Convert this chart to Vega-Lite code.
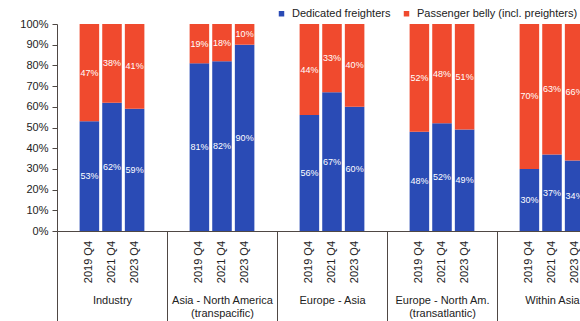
{
  "$schema": "https://vega.github.io/schema/vega-lite/v6.json",
  "width": 523,
  "height": 207,
  "autosize": {"type": "none"},
  "padding": {"left": 57, "top": 24, "right": 0, "bottom": 90},
  "background": "white",
  "config": {
    "view": {"stroke": null},
    "font": "Liberation Sans",
    "axis": {"labelFont": "Liberation Sans", "labelColor": "#222222", "domainColor": "#4f4844", "tickColor": "#4f4844", "grid": false, "title": null},
    "axisY": {"labelOverlap": false, "labelFontSize": 11, "tickSize": 5, "labelPadding": 4, "format": ".0%"}
  },
  "data": {
    "values": [
      {"region": "Industry", "quarter": "2019 Q4", "type": "Dedicated freighters", "share": 0.53},
      {"region": "Industry", "quarter": "2019 Q4", "type": "Passenger belly (incl. preighters)", "share": 0.47},
      {"region": "Industry", "quarter": "2021 Q4", "type": "Dedicated freighters", "share": 0.62},
      {"region": "Industry", "quarter": "2021 Q4", "type": "Passenger belly (incl. preighters)", "share": 0.38},
      {"region": "Industry", "quarter": "2023 Q4", "type": "Dedicated freighters", "share": 0.59},
      {"region": "Industry", "quarter": "2023 Q4", "type": "Passenger belly (incl. preighters)", "share": 0.41},
      {"region": "Asia - North America (transpacific)", "quarter": "2019 Q4", "type": "Dedicated freighters", "share": 0.81},
      {"region": "Asia - North America (transpacific)", "quarter": "2019 Q4", "type": "Passenger belly (incl. preighters)", "share": 0.19},
      {"region": "Asia - North America (transpacific)", "quarter": "2021 Q4", "type": "Dedicated freighters", "share": 0.82},
      {"region": "Asia - North America (transpacific)", "quarter": "2021 Q4", "type": "Passenger belly (incl. preighters)", "share": 0.18},
      {"region": "Asia - North America (transpacific)", "quarter": "2023 Q4", "type": "Dedicated freighters", "share": 0.90},
      {"region": "Asia - North America (transpacific)", "quarter": "2023 Q4", "type": "Passenger belly (incl. preighters)", "share": 0.10},
      {"region": "Europe - Asia", "quarter": "2019 Q4", "type": "Dedicated freighters", "share": 0.56},
      {"region": "Europe - Asia", "quarter": "2019 Q4", "type": "Passenger belly (incl. preighters)", "share": 0.44},
      {"region": "Europe - Asia", "quarter": "2021 Q4", "type": "Dedicated freighters", "share": 0.67},
      {"region": "Europe - Asia", "quarter": "2021 Q4", "type": "Passenger belly (incl. preighters)", "share": 0.33},
      {"region": "Europe - Asia", "quarter": "2023 Q4", "type": "Dedicated freighters", "share": 0.60},
      {"region": "Europe - Asia", "quarter": "2023 Q4", "type": "Passenger belly (incl. preighters)", "share": 0.40},
      {"region": "Europe - North Am. (transatlantic)", "quarter": "2019 Q4", "type": "Dedicated freighters", "share": 0.48},
      {"region": "Europe - North Am. (transatlantic)", "quarter": "2019 Q4", "type": "Passenger belly (incl. preighters)", "share": 0.52},
      {"region": "Europe - North Am. (transatlantic)", "quarter": "2021 Q4", "type": "Dedicated freighters", "share": 0.52},
      {"region": "Europe - North Am. (transatlantic)", "quarter": "2021 Q4", "type": "Passenger belly (incl. preighters)", "share": 0.48},
      {"region": "Europe - North Am. (transatlantic)", "quarter": "2023 Q4", "type": "Dedicated freighters", "share": 0.49},
      {"region": "Europe - North Am. (transatlantic)", "quarter": "2023 Q4", "type": "Passenger belly (incl. preighters)", "share": 0.51},
      {"region": "Within Asia", "quarter": "2019 Q4", "type": "Dedicated freighters", "share": 0.30},
      {"region": "Within Asia", "quarter": "2019 Q4", "type": "Passenger belly (incl. preighters)", "share": 0.70},
      {"region": "Within Asia", "quarter": "2021 Q4", "type": "Dedicated freighters", "share": 0.37},
      {"region": "Within Asia", "quarter": "2021 Q4", "type": "Passenger belly (incl. preighters)", "share": 0.63},
      {"region": "Within Asia", "quarter": "2023 Q4", "type": "Dedicated freighters", "share": 0.34},
      {"region": "Within Asia", "quarter": "2023 Q4", "type": "Passenger belly (incl. preighters)", "share": 0.66}
    ]
  },
  "encoding": {
    "x": {
      "field": "region",
      "type": "nominal",
      "sort": ["Industry", "Asia - North America (transpacific)", "Europe - Asia", "Europe - North Am. (transatlantic)", "Within Asia"],
      "scale": {"range": [0, 550], "paddingInner": 0, "paddingOuter": 0},
      "axis": {
        "orient": "bottom",
        "labelAngle": 0,
        "labelFontSize": 11,
        "labelLineHeight": 13,
        "labelPadding": -32,
        "labelBaseline": "top",
        "tickBand": "extent",
        "tickSize": 95,
        "labelOverlap": false,
        "labelBound": false,
        "labelLimit": 0,
        "labelExpr": "indexof(datum.label, ' (') > 0 ? [substring(datum.label, 0, indexof(datum.label, ' (')), substring(datum.label, indexof(datum.label, ' (') + 1)] : datum.label"
      }
    },
    "xOffset": {
      "field": "quarter",
      "type": "nominal",
      "sort": ["2019 Q4", "2021 Q4", "2023 Q4"],
      "scale": {"paddingInner": 0.136, "paddingOuter": 1.05}
    }
  },
  "layer": [
    {
      "mark": {"type": "bar"},
      "encoding": {
        "y": {
          "field": "share",
          "type": "quantitative",
          "stack": "zero",
          "scale": {"domain": [0, 1]},
          "axis": {"values": [0, 0.1, 0.2, 0.3, 0.4, 0.5, 0.6, 0.7, 0.8, 0.9, 1], "tickCount": 11}
        },
        "color": {
          "field": "type",
          "type": "nominal",
          "scale": {"domain": ["Dedicated freighters", "Passenger belly (incl. preighters)"], "range": ["#2a4bb5", "#f04a2e"]},
          "legend": {
            "orient": "none",
            "legendX": 219,
            "legendY": -16,
            "direction": "horizontal",
            "title": null,
            "symbolType": "square",
            "symbolSize": 30,
            "labelFontSize": 11,
            "labelColor": "#222222",
            "labelLimit": 0,
            "labelOffset": 5,
            "columnPadding": 10,
            "padding": 0
          }
        },
        "order": {"field": "type"}
      }
    },
    {
      "mark": {"type": "text", "color": "white", "fontSize": 9, "baseline": "middle", "align": "center"},
      "encoding": {
        "y": {"field": "share", "type": "quantitative", "stack": "zero", "bandPosition": 0.5, "axis": {"values": [0, 0.1, 0.2, 0.3, 0.4, 0.5, 0.6, 0.7, 0.8, 0.9, 1], "tickCount": 11}},
        "detail": {"field": "type"},
        "order": {"field": "type"},
        "text": {"field": "share", "type": "quantitative", "format": ".0%"}
      }
    },
    {
      "transform": [{"filter": "datum.type === 'Dedicated freighters'"}],
      "mark": {"type": "text", "angle": 270, "align": "right", "baseline": "middle", "dx": -10, "fontSize": 11, "color": "#222222"},
      "encoding": {
        "y": {"datum": 0, "type": "quantitative", "axis": {"values": [0, 0.1, 0.2, 0.3, 0.4, 0.5, 0.6, 0.7, 0.8, 0.9, 1], "tickCount": 11}},
        "text": {"field": "quarter"}
      }
    }
  ]
}
